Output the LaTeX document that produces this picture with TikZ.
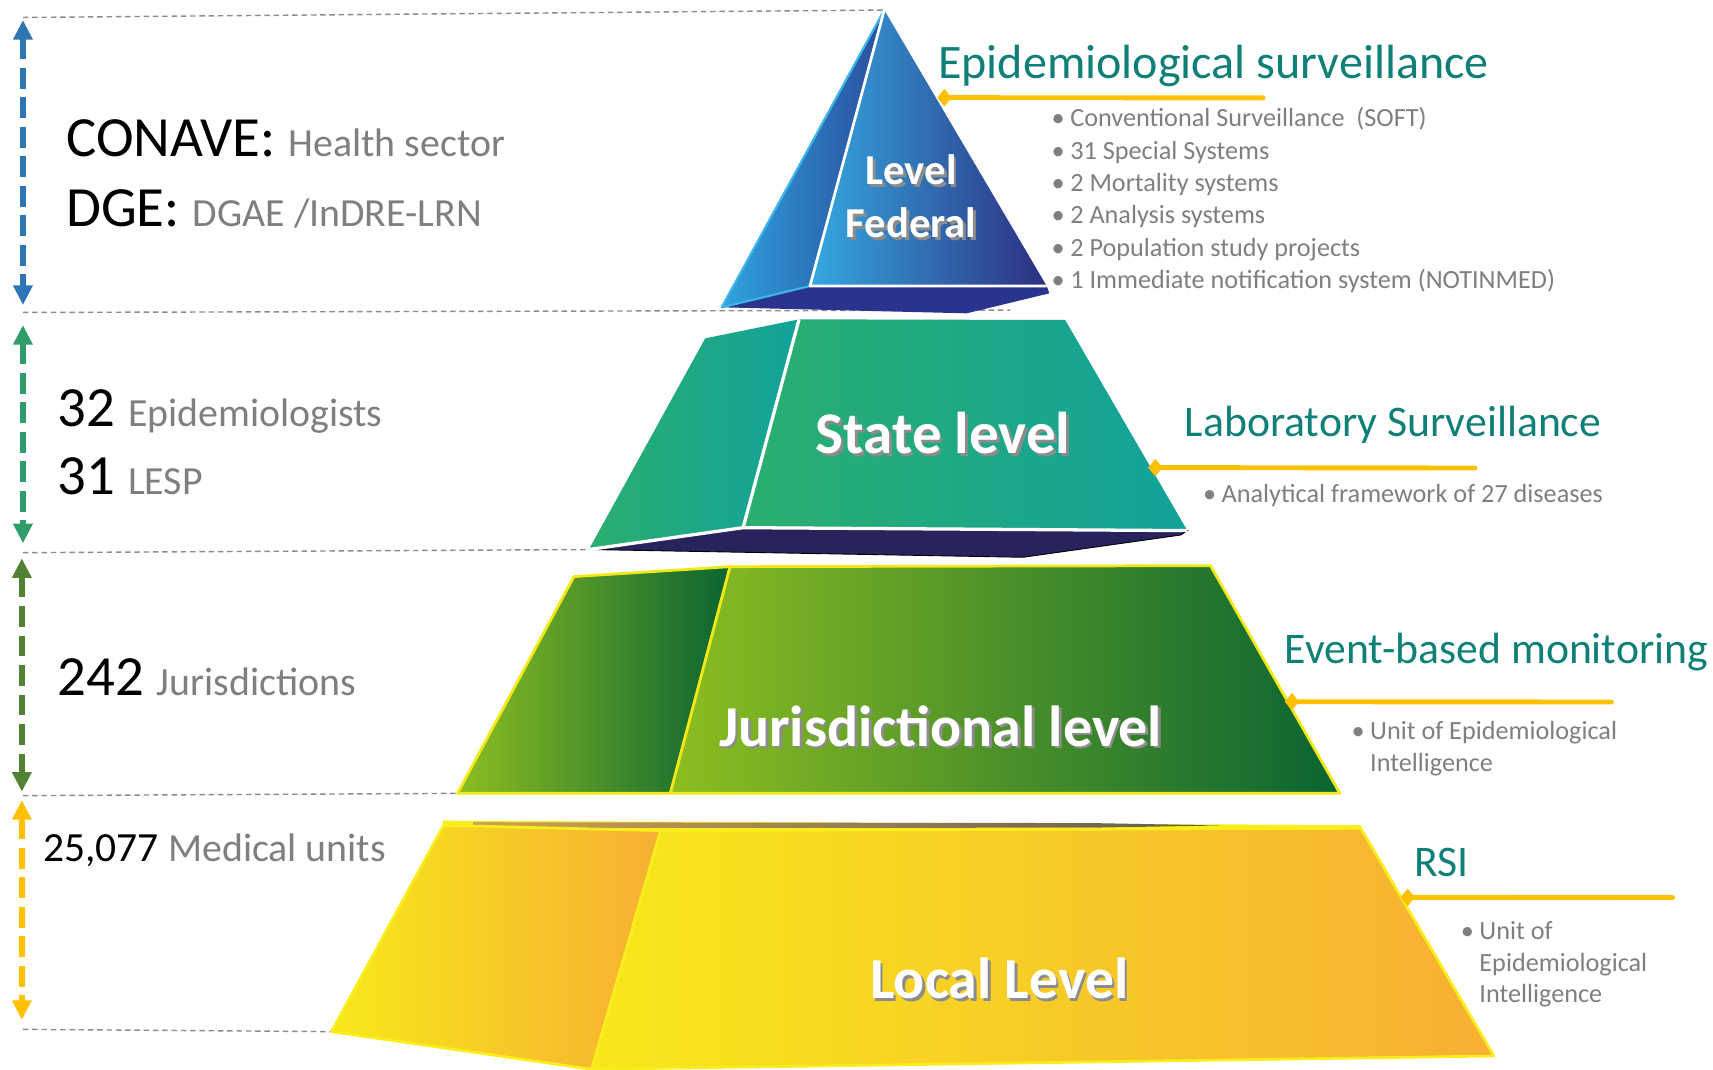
\documentclass[tikz,border=0pt]{standalone}
\usepackage{fontspec}
\setmainfont{Carlito}
\usetikzlibrary{arrows.meta}

\definecolor{tealtxt}{HTML}{0E8078}
\definecolor{graytxt}{HTML}{7F7F7F}
\definecolor{guidegray}{HTML}{8C8C8C}
\definecolor{ptryel}{HTML}{FFC000}
\definecolor{arrblue}{HTML}{2E75B6}
\definecolor{arrgreen}{HTML}{2F9C6B}
\definecolor{arrdkgreen}{HTML}{548235}
\definecolor{arryel}{HTML}{FFC000}
% federal
\definecolor{fedA}{HTML}{2FA3DD}
\definecolor{fedB}{HTML}{2A4E9E}
\definecolor{fedC}{HTML}{35A9E1}
\definecolor{fedD}{HTML}{1F6EB3}
\definecolor{fedE}{HTML}{2D2F80}
\definecolor{fedNavy}{HTML}{2A348F}
\definecolor{fedEdge}{HTML}{3DB4EA}
% state
\definecolor{stA}{HTML}{2BAE6E}
\definecolor{stB}{HTML}{12A29B}
\definecolor{stBottom}{HTML}{29235C}
% jurisdictional
\definecolor{juA}{HTML}{8DBE21}
\definecolor{juB}{HTML}{0A6432}
\definecolor{juEdge}{HTML}{F3E817}
% local
\definecolor{loA}{HTML}{F7E81A}
\definecolor{loB}{HTML}{F7AF33}
\definecolor{loEdge}{HTML}{F9EE1C}
\definecolor{stripA}{HTML}{CFA24F}
\definecolor{stripB}{HTML}{5F5C52}

\tikzset{
  guide/.style={draw=guidegray, line width=1.3pt, dash pattern=on 5pt off 3.5pt},
  levelspan/.style={draw=#1, line width=5.5pt, dash pattern=on 19pt off 8pt,
    {Triangle[length=18pt,width=17pt]}-{Triangle[length=18pt,width=17pt]}},
  ptrline/.style={draw=ptryel, line width=4.5pt, line cap=round,
    {Diamond[length=13pt,width=16pt]}-},
  bigtxt/.style={anchor=base west, inner sep=0pt, font=\fontsize{52}{56}\selectfont},
  headtxt/.style={anchor=base west, inner sep=0pt, text=tealtxt, font=\fontsize{40}{44}\selectfont},
  itemtxt/.style={anchor=base west, inner sep=0pt, text=graytxt, font=\fontsize{24}{28}\selectfont},
  lvltxt/.style={anchor=base, inner sep=0pt, text=white},
  lvlshadow/.style={lvltxt, text=black!45, xshift=2.5pt, yshift=-2.5pt}
}

\newcommand{\gtext}[1]{{\fontsize{36.5}{40}\selectfont\color{graytxt}#1}}
\newcommand{\blt}{\makebox[17pt][l]{\textbullet}}
\newcommand{\lvltext}[4]{%
  \node[lvlshadow,font=\fontsize{#3}{#3}\selectfont\bfseries] (#1sh) at (#2) {#4};
  \node[lvltxt,font=\fontsize{#3}{#3}\selectfont\bfseries] (#1) at (#2) {#4};}

\begin{document}
\begin{tikzpicture}[x=1pt,y=-1pt]
  \useasboundingbox[fill=white] (0,0) rectangle (1568,979);

  % pyramid corners
  \coordinate (fedtop) at (809.4,9.2);
  \coordinate (fedbl) at (660.6,281.3);
  \coordinate (fedfl) at (741.4,261.8);
  \coordinate (fedfr) at (958.1,261.8);
  \coordinate (fedbr) at (960.5,268.5);
  \coordinate (fedbb) at (884.8,286.8);

  \coordinate (stbk) at (645.5,309.7);
  \coordinate (sttl) at (731.4,292.3);
  \coordinate (sttr) at (975,292.9);
  \coordinate (stbr) at (1086.8,485.7);
  \coordinate (stfl) at (680.2,483);
  \coordinate (stbl) at (539,503);
  \coordinate (stbx) at (1081,489.7);
  \coordinate (stbb) at (936.5,510.1);

  \coordinate (jubk) at (525.4,527.8);
  \coordinate (jutl) at (668.3,518.7);
  \coordinate (jutr) at (1108,517.8);
  \coordinate (jubr) at (1226.4,726.2);
  \coordinate (jufl) at (613.6,726.2);
  \coordinate (jubl) at (418.8,726.2);

  \coordinate (lotl) at (405,751.2);
  \coordinate (lotr) at (1245.6,755.2);
  \coordinate (lolt) at (406,755.5);
  \coordinate (loft) at (604.7,760.3);
  \coordinate (lofr) at (1245.6,758.2);
  \coordinate (lobr) at (1367.5,966.6);
  \coordinate (lofb) at (541.6,978.8);
  \coordinate (lobl) at (303.4,944.3);

  % guide lines
  \coordinate (g1) at (21,16);
  \coordinate (g2) at (21,286);
  \coordinate (g2e) at (924.5,283.8);
  \coordinate (g3) at (21,505.9);
  \coordinate (g4) at (21,728.3);
  \coordinate (g5) at (21,942.2);
  \draw[guide] (g1) -- (fedtop);
  \draw[guide] (g2) -- (g2e);
  \draw[guide] (g3) -- (stbl);
  \draw[guide] (g4) -- (jubl);
  \draw[guide] (g5) -- (lobl);

  % vertical spans
  \coordinate (a1t) at (21,18.3);  \coordinate (a1b) at (21,279.2);
  \coordinate (a2t) at (21,297.5); \coordinate (a2b) at (21,497.3);
  \coordinate (a3t) at (20,511);   \coordinate (a3b) at (20,724.7);
  \coordinate (a4t) at (20,732.3); \coordinate (a4b) at (20,933.6);
  \draw[levelspan=arrblue] (a1t) -- (a1b);
  \draw[levelspan=arrgreen] (a2t) -- (a2b);
  \draw[levelspan=arrdkgreen] (a3t) -- (a3b);
  \draw[levelspan=arryel] (a4t) -- (a4b);

  % federal level
  \shade[left color=fedA, right color=fedB] (fedtop) -- (fedbl) -- (fedfl) -- cycle;
  \shade[left color=fedC, middle color=fedD, right color=fedE] (fedtop) -- (fedfl) -- (fedfr) -- cycle;
  \fill[fedNavy] (fedbl) -- (fedfl) -- (fedfr) -- (fedbr) -- (fedbb) -- cycle;
  \draw[fedEdge, line width=2pt, line join=round] (fedtop) -- (fedbl) -- (fedfl);
  \draw[white, line width=2.5pt, line join=round] (fedtop) -- (fedfl) -- (fedfr);

  % state level
  \shade[left color=stA, right color=stB] (stbk) -- (sttl) -- (stfl) -- (stbl) -- cycle;
  \shade[left color=stA, right color=stB] (sttl) -- (sttr) -- (stbr) -- (stfl) -- cycle;
  \filldraw[fill=stBottom, draw=black, line width=0.8pt] (stbl) -- (stfl) -- (stbr) -- (stbx) -- (stbb) -- cycle;
  \draw[white, line width=3pt, line join=round] (sttl) -- (stfl);
  \draw[white, line width=3pt, line join=round] (stbl) -- (stfl) -- (stbr);

  % jurisdictional level
  \shadedraw[left color=juA, right color=juB, draw=juEdge, line width=2.5pt, line join=round]
    (jubk) -- (jutl) -- (jufl) -- (jubl) -- cycle;
  \shadedraw[left color=juA, right color=juB, draw=juEdge, line width=2.5pt, line join=round]
    (jutl) -- (jutr) -- (jubr) -- (jufl) -- cycle;

  % local level
  \fill[loEdge] (lotl) -- (lotr) -- (lofr) -- (loft) -- (lolt) -- cycle;
  \shade[left color=stripA, right color=stripB] (433,752.6) -- (1000,753.4) -- (1116,755.6) -- (1000,757.6) -- (433,758) -- cycle;
  \shadedraw[left color=loA, right color=loB, draw=loEdge, line width=2.5pt, line join=round]
    (lolt) -- (loft) -- (lofb) -- (lobl) -- cycle;
  \shadedraw[left color=loA, right color=loB, draw=loEdge, line width=2.5pt, line join=round]
    (loft) -- (lofr) -- (lobr) -- (lofb) -- cycle;

  % level labels
  \lvltext{fedlvl}{834,169.3}{39}{Level}
  \lvltext{fedlvlb}{834,217.2}{39}{Federal}
  \lvltext{stlvl}{863.3,415}{54}{State level}
  \lvltext{julvl}{861,683}{53}{Jurisdictional level}
  \lvltext{lolvl}{914.7,914}{53}{Local Level}

  % left side figures
  \node[bigtxt] (conave) at (60.4,142.8) {CONAVE: \gtext{Health sector}};
  \node[bigtxt] (dge) at (60.4,207.5) {DGE: \gtext{DGAE /InDRE-LRN}};
  \node[bigtxt] (epis) at (52.5,390) {32 \gtext{Epidemiologists}};
  \node[bigtxt] (lesp) at (52.5,452.4) {31 \gtext{LESP}};
  \node[bigtxt] (jurs) at (52.5,636.2) {242 \gtext{Jurisdictions}};
  \node[bigtxt, font=\fontsize{38}{42}\selectfont] (units) at (39.4,788.7) {25,077 \gtext{Medical units}};

  % right side headings
  \node[headtxt, font=\fontsize{44}{48}\selectfont] (epihead) at (858.6,71.7) {Epidemiological surveillance};
  \node[headtxt] (labhead) at (1084.3,399.7) {Laboratory Surveillance};
  \node[headtxt] (evthead) at (1176,607.2) {Event-based monitoring};
  \node[headtxt] (rsihead) at (1294.5,802.4) {RSI};

  % pointers
  \coordinate (p1) at (858,89.4);   \coordinate (p1e) at (1156,89.6);
  \coordinate (p2) at (1051,428);   \coordinate (p2e) at (1350,428.4);
  \coordinate (p3) at (1176,642.3); \coordinate (p3e) at (1475,642.6);
  \coordinate (p4) at (1282,821.4); \coordinate (p4e) at (1531,821.6);
  \draw[ptrline] (p1) -- (p1e);
  \draw[ptrline] (p2) -- (p2e);
  \draw[ptrline] (p3) -- (p3e);
  \draw[ptrline] (p4) -- (p4e);

  % items
  \foreach \t [count=\i] in {Conventional Surveillance\ \ (SOFT), 31 Special Systems,
      2 Mortality systems, 2 Analysis systems, 2 Population study projects,
      1 Immediate notification system (NOTINMED)}
    \node[itemtxt] (fed\i) at (962.5,86.4+29.6*\i) {\blt\t};
  \node[itemtxt] (lab1) at (1101,460.1) {\blt Analytical framework of 27 diseases};
  \node[itemtxt] (evt1) at (1237,676.7) {\blt Unit of Epidemiological};
  \node[itemtxt] (evt2) at (1254,706.3) {Intelligence};
  \node[itemtxt] (rsi1) at (1337,859.8) {\blt Unit of};
  \node[itemtxt] (rsi2) at (1354,889.4) {Epidemiological};
  \node[itemtxt] (rsi3) at (1354,917.8) {Intelligence};
\end{tikzpicture}
\end{document}
